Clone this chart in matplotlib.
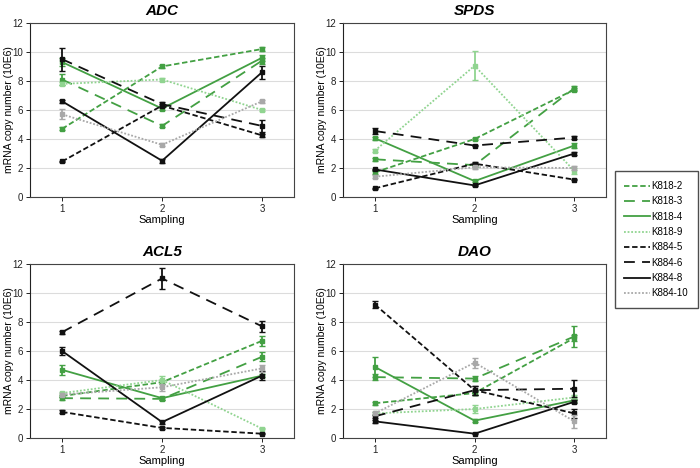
import matplotlib
matplotlib.use("Agg")
import matplotlib.pyplot as plt
import numpy as np

plt.rcParams['font.family'] = ['Liberation Sans', 'DejaVu Sans']

sampling = [1, 2, 3]
series_names = ["K818-2", "K818-3", "K818-4", "K818-9", "K884-5", "K884-6", "K884-8", "K884-10"]

# ADC
adc_k818_2 = [4.7, 9.0, 10.2]
adc_k818_3 = [8.1, 4.9, 9.4]
adc_k818_4 = [9.3, 6.1, 9.6]
adc_k818_9 = [7.8, 8.1, 6.0]
adc_k884_5 = [2.45, 6.3, 4.25]
adc_k884_6 = [9.5, 6.4, 4.9]
adc_k884_8 = [6.6, 2.5, 8.6]
adc_k884_10 = [5.7, 3.6, 6.6]
adc_err = [[0.1, 0.1, 0.15], [0.4, 0.1, 0.2], [0.3, 0.1, 0.2], [0.1, 0.1, 0.1],
           [0.05, 0.1, 0.1], [0.8, 0.15, 0.4], [0.1, 0.15, 0.45], [0.35, 0.1, 0.1]]

# SPDS
spds_k818_2 = [1.7, 4.0, 7.4]
spds_k818_3 = [2.6, 2.2, 7.5]
spds_k818_4 = [4.05, 1.1, 3.55]
spds_k818_9 = [3.2, 9.05, 1.8]
spds_k884_5 = [0.6, 2.3, 1.2]
spds_k884_6 = [4.55, 3.55, 4.1]
spds_k884_8 = [1.9, 0.8, 3.0]
spds_k884_10 = [1.4, 2.05, 2.0]
spds_err = [[0.1, 0.1, 0.1], [0.1, 0.1, 0.15], [0.1, 0.05, 0.15], [0.1, 1.0, 0.2],
            [0.05, 0.1, 0.05], [0.2, 0.05, 0.1], [0.05, 0.05, 0.1], [0.1, 0.1, 0.15]]

# ACL5
acl5_k818_2 = [2.9, 3.85, 6.7]
acl5_k818_3 = [2.75, 2.7, 5.6]
acl5_k818_4 = [4.7, 2.75, 4.3]
acl5_k818_9 = [3.1, 4.0, 0.65]
acl5_k884_5 = [1.8, 0.7, 0.3]
acl5_k884_6 = [7.3, 11.0, 7.7]
acl5_k884_8 = [6.0, 1.1, 4.3]
acl5_k884_10 = [3.0, 3.5, 4.8]
acl5_err = [[0.1, 0.15, 0.35], [0.1, 0.1, 0.3], [0.35, 0.1, 0.1], [0.1, 0.25, 0.05],
            [0.1, 0.05, 0.05], [0.1, 0.75, 0.4], [0.25, 0.1, 0.3], [0.1, 0.25, 0.25]]

# DAO
dao_k818_2 = [2.4, 3.1, 6.9]
dao_k818_3 = [4.2, 4.1, 7.0]
dao_k818_4 = [4.9, 1.2, 2.6]
dao_k818_9 = [1.7, 2.0, 2.8]
dao_k884_5 = [9.2, 3.3, 1.7]
dao_k884_6 = [1.5, 3.3, 3.4]
dao_k884_8 = [1.15, 0.3, 2.5]
dao_k884_10 = [1.7, 5.2, 1.15]
dao_err = [[0.1, 0.1, 0.2], [0.2, 0.15, 0.7], [0.7, 0.1, 0.1], [0.1, 0.3, 0.2],
           [0.25, 0.3, 0.3], [0.1, 0.3, 0.6], [0.1, 0.05, 0.1], [0.1, 0.35, 0.45]]

panels = [
    ("ADC", [adc_k818_2, adc_k818_3, adc_k818_4, adc_k818_9, adc_k884_5, adc_k884_6, adc_k884_8, adc_k884_10], adc_err),
    ("SPDS", [spds_k818_2, spds_k818_3, spds_k818_4, spds_k818_9, spds_k884_5, spds_k884_6, spds_k884_8, spds_k884_10], spds_err),
    ("ACL5", [acl5_k818_2, acl5_k818_3, acl5_k818_4, acl5_k818_9, acl5_k884_5, acl5_k884_6, acl5_k884_8, acl5_k884_10], acl5_err),
    ("DAO", [dao_k818_2, dao_k818_3, dao_k818_4, dao_k818_9, dao_k884_5, dao_k884_6, dao_k884_8, dao_k884_10], dao_err),
]

green = "#43a043"
lgreen = "#90d490"
gray = "#a8a8a8"
black = "#111111"
styles = [
    dict(color=green, ls=(0, (3, 1.5))),
    dict(color=green, ls=(0, (6, 4))),
    dict(color=green, ls="-"),
    dict(color=lgreen, ls=(0, (1, 1))),
    dict(color=black, ls=(0, (3, 1.5))),
    dict(color=black, ls=(0, (6, 4))),
    dict(color=black, ls="-"),
    dict(color=gray, ls=(0, (1, 1))),
]

fig = plt.figure(figsize=(7.0, 4.68), dpi=100)
positions = [
    [0.043, 0.579, 0.377, 0.372],
    [0.490, 0.579, 0.376, 0.372],
    [0.043, 0.064, 0.377, 0.372],
    [0.490, 0.064, 0.376, 0.372],
]

for idx, (title, data, errs) in enumerate(panels):
    ax = fig.add_axes(positions[idx])
    for i, (vals, err) in enumerate(zip(data, errs)):
        st = styles[i]
        ax.errorbar(sampling, vals, yerr=err, color=st["color"], ecolor=st["color"],
                    elinewidth=1.3, capsize=2, capthick=1.0, lw=0)
        ax.plot(sampling, vals, color=st["color"], ls=st["ls"], lw=1.3,
                marker="s", markersize=2.5, label=series_names[i])
    ax.set_xlim(0.68, 3.32)
    ax.set_ylim(0, 12)
    ax.set_yticks(range(0, 13, 2))
    ax.set_xticks(sampling)
    ax.grid(axis="y", color="#dcdcdc", lw=0.8)
    ax.set_axisbelow(True)
    for s in ["top", "right", "bottom"]:
        ax.spines[s].set_color("#444444")
    ax.spines["left"].set_color("#222222")
    ax.tick_params(labelsize=7, length=3, width=0.7, colors="#222222", pad=2)
    ax.set_title(title, fontsize=11, fontweight="bold", fontstyle="italic", pad=6)
    ax.set_xlabel("Sampling", fontsize=8, labelpad=1)
    ax.set_ylabel("mRNA copy number (10E6)", fontsize=7.5)
    ax.yaxis.set_label_coords(-0.062, 0.5)

leg_handles = [plt.Line2D([], [], color=s["color"], ls=s["ls"], lw=1.3) for s in styles]
fig.legend(leg_handles, series_names, loc="upper right",
           bbox_to_anchor=(0.997, 0.634),
           fontsize=7, frameon=True, fancybox=False, edgecolor="#222222",
           handlelength=2.6, handletextpad=0.2, labelspacing=0.55,
           borderpad=1.0, borderaxespad=0.0)

fig.savefig("out.png", dpi=100)
